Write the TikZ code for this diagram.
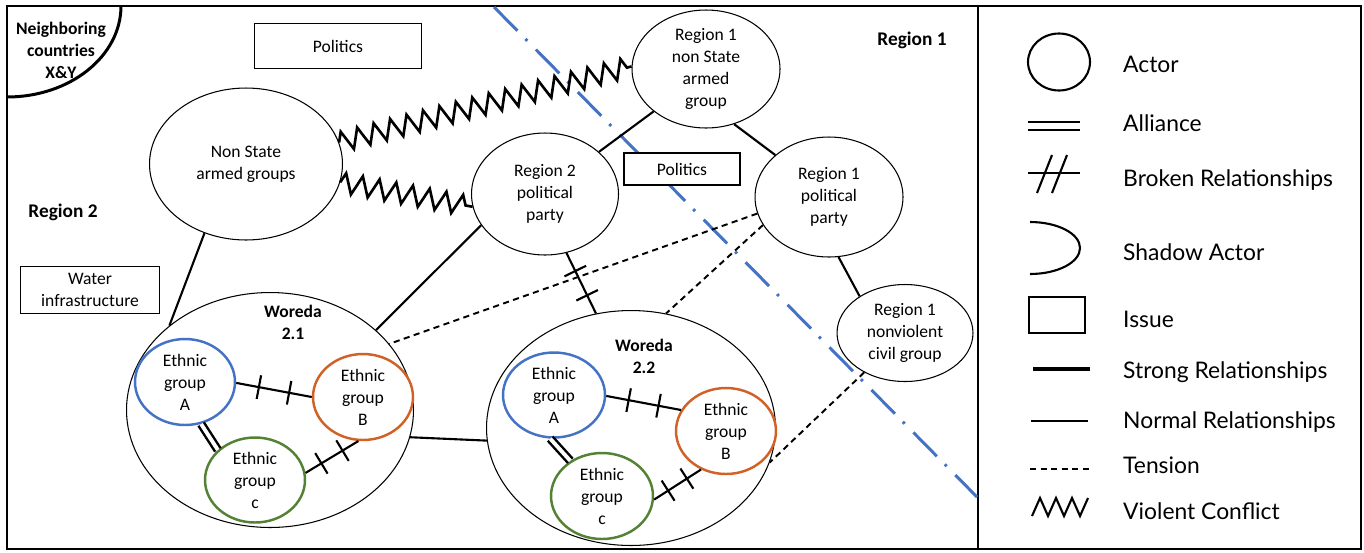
\documentclass[tikz,border=0pt]{standalone}
\usepackage{fontspec}
\setmainfont{Carlito}
\newfontfamily\legendfont{Lato}
\usepackage{tikz}
\usetikzlibrary{shapes,decorations.pathmorphing,decorations.markings}
\definecolor{borderblue}{RGB}{68,114,196}
\definecolor{ethblue}{RGB}{68,114,196}
\definecolor{ethorange}{RGB}{208,98,40}
\definecolor{ethgreen}{RGB}{84,130,53}

\begin{document}
\begin{tikzpicture}[x=0.02cm,y=-0.02cm]
  \tikzstyle{every node}=[font=\fontsize{10}{12.5}\selectfont, align=center]
  \tikzstyle{boldtext}=[font=\fontsize{10}{12.5}\selectfont\bfseries]
  \tikzstyle{actor}=[draw, ellipse, inner sep=0pt, fill=white, line width=0.6pt]
  \tikzstyle{ethnic}=[actor, line width=1.4pt]
  \tikzstyle{issue}=[draw, rectangle, inner sep=0pt, fill=white, line width=0.6pt]
  \tikzstyle{normalrel}=[line width=1.2pt]
  \tikzstyle{tensionrel}=[line width=1.1pt, dash pattern=on 3.5pt off 2.5pt]
  \tikzstyle{alliance}=[double, double distance=2.2pt, line width=1.4pt]
  \tikzstyle{violent}=[line width=1.5pt, line join=miter, decorate, decoration={zigzag, segment length=0.34cm, amplitude=0.2cm}]
  \tikzstyle{broken}=[normalrel, postaction={decorate}, decoration={markings,
      mark=at position 0.3 with {\draw[normalrel] (0,-0.24cm) -- (0,0.24cm);},
      mark=at position 0.7 with {\draw[normalrel] (0,-0.24cm) -- (0,0.24cm);}}]
  \tikzstyle{legendtext}=[anchor=base west, font=\legendfont\fontsize{13}{15}\selectfont]

  \useasboundingbox (0,0) rectangle (1364,552);
  \draw[line width=1.2pt] (7,6) rectangle (1361,549);
  \draw[line width=1.2pt] (978,6) -- (978,549);

  % border between the two regions
  \coordinate (bordertop) at (494,7);
  \coordinate (borderend) at (977,497);
  \draw[borderblue, line width=1.7pt, dash pattern=on 19pt off 6.5pt on 1.5pt off 7pt] (bordertop) -- (borderend);

  \draw[line width=1.7pt] (121,6) arc[start angle=0, end angle=90, x radius=114, y radius=91];
  \node[boldtext] (neighbors) at (61,50) {Neighboring\\countries\\X\&Y};
  \node[font=\fontsize{11}{13}\selectfont\bfseries] (region2) at (63,212) {Region 2};
  \node[font=\fontsize{11}{13}\selectfont\bfseries] (region1) at (912,40) {Region 1};

  \node[issue, minimum width=3.34cm, minimum height=0.9cm] (politics1) at (338,46) {Politics};
  \node[issue, minimum width=2.32cm, minimum height=0.64cm] (politics2) at (682,169) {Politics};
  \node[issue, minimum width=2.78cm, minimum height=0.94cm] (water) at (90,290) {Water\\infrastructure};

  \node[actor, minimum width=3.86cm, minimum height=3.04cm] (nsag) at (246,164) {Non State\\armed groups};
  \node[actor, minimum width=2.96cm, minimum height=2.36cm] (r1nsag) at (706,69) {Region 1\\non State\\armed\\group};
  \node[actor, minimum width=2.94cm, minimum height=2.44cm] (r2pp) at (545,194) {Region 2\\political\\party};
  \node[actor, minimum width=2.96cm, minimum height=2.4cm] (r1pp) at (829,197) {Region 1\\political\\party};
  \node[actor, minimum width=2.72cm, minimum height=1.94cm] (nv) at (905,333) {Region 1\\nonviolent\\civil group};

  \node[actor, minimum width=5.74cm, minimum height=4.7cm] (w21) at (270,410) {};
  \node[boldtext] (w21label) at (293,322) {Woreda\\2.1};
  \node[ethnic, draw=ethblue, minimum width=2cm, minimum height=1.72cm] (a1) at (185,382) {Ethnic\\group\\A};
  \node[ethnic, draw=ethorange, minimum width=2cm, minimum height=1.72cm] (b1) at (363,397) {Ethnic\\group\\B};
  \node[ethnic, draw=ethgreen, minimum width=2cm, minimum height=1.7cm] (c1) at (255,480) {Ethnic\\group\\c};

  \node[actor, minimum width=5.78cm, minimum height=4.7cm] (w22) at (631,428) {};
  \node[boldtext] (w22label) at (644,356) {Woreda\\2.2};
  \node[ethnic, draw=ethblue, minimum width=2.04cm, minimum height=1.7cm] (a2) at (554,395) {Ethnic\\group\\A};
  \node[ethnic, draw=ethorange, minimum width=2cm, minimum height=1.72cm] (b2) at (726,431) {Ethnic\\group\\B};
  \node[ethnic, draw=ethgreen, minimum width=2.04cm, minimum height=1.72cm] (c2) at (602,496) {Ethnic\\group\\c};

  \draw[violent] (nsag.13) -- (r1nsag.178);
  \draw[violent] (nsag.-11) -- (r2pp.190);
  \draw[normalrel] (nsag.239) -- (w21.140);
  \draw[normalrel] (r2pp.206) -- (w21.37);
  \draw[normalrel] (w21.-11) -- (w22.185);
  \draw[broken] (r2pp.-70) -- (w22.107);
  \draw[normalrel] (r1nsag.219) -- (r2pp.38);
  \draw[normalrel] (r1nsag.-63) -- (r1pp.142);
  \draw[normalrel] (r1pp.-81) -- (nv.141);
  \draw[tensionrel] (r1pp.193) -- (w21.29);
  \draw[tensionrel] (r1pp.203) -- (w22.73);
  \draw[tensionrel] (nv.224) -- (w22.-14);

  \draw[broken] (a1.-1) -- (b1.180);
  \draw[alliance] (a1.-69) -- (c1.141);
  \draw[broken] (c1.8) -- (b1.264);
  \draw[broken] (a2.-1) -- (b2.155);
  \draw[alliance] (a2.265) -- (c2.132);
  \draw[broken] (c2.-4) -- (b2.237);

  % legend
  \node[actor, line width=1.2pt, minimum width=1.24cm, minimum height=1.14cm] (legactor) at (1059,62) {};
  \node[legendtext] (actortext) at (1117,72) {Actor};
  \draw[normalrel] (1028,122) -- (1080,122);
  \draw[normalrel] (1028,130) -- (1080,130);
  \node[legendtext] (alliancetext) at (1117,131) {Alliance};
  \draw[normalrel] (1028,173) -- (1080,173);
  \draw[normalrel] (1037,193) -- (1052,155);
  \draw[normalrel] (1052,193) -- (1067,155);
  \node[legendtext] (brokentext) at (1117,186) {Broken Relationships};
  \draw[normalrel] (1030,222) arc[start angle=-90, end angle=90, x radius=50, y radius=26];
  \node[legendtext] (shadowtext) at (1117,260) {Shadow Actor};
  \node[issue, line width=1.2pt, minimum width=1.12cm, minimum height=0.72cm] (legissue) at (1057,315) {};
  \node[legendtext] (issuetext) at (1117,327) {Issue};
  \draw[line width=2.4pt] (1033,369) -- (1090,369);
  \node[legendtext] (strongtext) at (1117,378) {Strong Relationships};
  \draw[normalrel] (1031,421) -- (1088,421);
  \node[legendtext] (normaltext) at (1117,428) {Normal Relationships};
  \draw[tensionrel] (1030,469) -- (1090,469);
  \node[legendtext] (tensiontext) at (1117,473) {Tension};
  \draw[normalrel] (1032,516) -- (1040,498) -- (1048,516) -- (1056,498) -- (1064,516) -- (1072,498) -- (1080,516) -- (1088,498);
  \node[legendtext] (violenttext) at (1117,519) {Violent Conflict};
\end{tikzpicture}
\end{document}
